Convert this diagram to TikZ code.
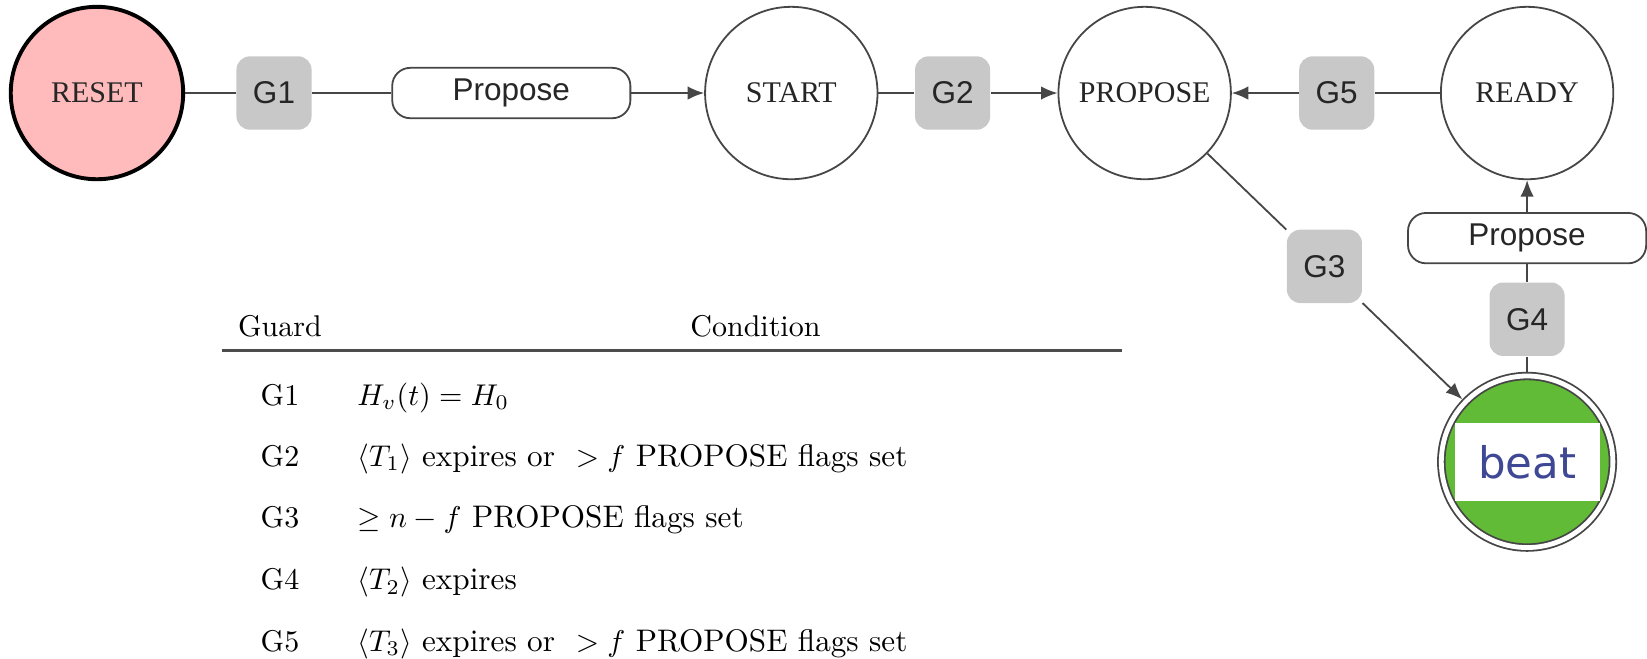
\documentclass[tikz,border=0pt]{standalone}
\usepackage{fontspec}
\usetikzlibrary{calc,arrows.meta}
\newfontfamily\statefont{Liberation Serif}
\newfontfamily\guardfont{Liberation Sans}
\newfontfamily\beatfont{DejaVu Sans}
\definecolor{resetpink}{RGB}{255,187,187}
\definecolor{beatgreen}{RGB}{98,187,54}
\definecolor{guardgray}{RGB}{200,200,200}
\definecolor{beatblue}{RGB}{63,72,148}
\definecolor{linegray}{RGB}{70,70,70}
\tikzset{
	state/.style={circle,draw=linegray,line width=0.6pt,minimum size=2.02cm,inner sep=0pt,text=black!85,font=\statefont\fontsize{10}{12}\selectfont},
	guard/.style={rectangle,rounded corners=4.5pt,fill=guardgray,minimum width=0.88cm,minimum height=0.86cm,inner sep=0pt,text=black!85,font=\guardfont\fontsize{10.5}{12}\selectfont},
	action/.style={rectangle,rounded corners=6pt,draw=linegray,line width=0.6pt,fill=white,minimum width=2.79cm,minimum height=0.59cm,inner sep=0pt,text=black!85,font=\guardfont\fontsize{10.5}{12}\selectfont},
	link/.style={draw=linegray,line width=0.6pt},
	linkarrow/.style={link,-{Latex[length=5.5pt,width=4.5pt]}},
	cell/.style={anchor=base,inner sep=0pt,font=\fontsize{10}{12}\selectfont},
	condcell/.style={cell,anchor=base west,font=\fontsize{10.4}{12}\selectfont}
}

\begin{document}
\begin{tikzpicture}
	\useasboundingbox (0,0) rectangle (19.295,-7.72);
	% states
	\node[state,fill=resetpink,draw=black,line width=1.3pt] (RESET) at (1.136,-1.09) {RESET};
	\node[state] (START) at (9.27,-1.09) {START};
	\node[state] (PROPOSE) at (13.41,-1.09) {PROPOSE};
	\node[state] (READY) at (17.89,-1.09) {READY};
	\node[state,fill=beatgreen,double=white,double distance=1.6pt,minimum size=2.01cm,outer sep=1.4pt] (beat) at ($(READY) + (0,-4.32)$) {};
	\node[fill=white,minimum width=1.70cm,minimum height=0.91cm,text=beatblue,font=\beatfont\fontsize{14.5}{16}\selectfont] (beatlabel) at (beat) {beat};
	% guards and actions
	\node[guard] (G1) at (3.21,-1.09) {G1};
	\node[action] (P1) at (5.99,-1.09) {Propose};
	\node[guard] (G2) at (11.16,-1.09) {G2};
	\node[guard] (G5) at (15.66,-1.09) {G5};
	\node[guard] (G3) at ($(PROPOSE)!0.47!(beat)$) {G3};
	\node[action] (P2) at ($(READY) + (0,-1.7)$) {Propose};
	\node[guard] (G4) at ($(READY) + (0,-2.65)$) {G4};
	% transitions
	\draw[link] (RESET) -- (G1) -- (P1);
	\draw[linkarrow] (P1) -- (START);
	\draw[link] (START) -- (G2);
	\draw[linkarrow] (G2) -- (PROPOSE);
	\draw[link] (READY) -- (G5);
	\draw[linkarrow] (G5) -- (PROPOSE);
	\draw[link] (PROPOSE) -- (G3);
	\draw[linkarrow] (G3) -- (beat);
	\draw[link] (beat) -- (G4) -- (P2);
	\draw[linkarrow] (P2) -- (READY);
	% guard table
	\node[cell] (Hguard) at (3.28,-3.94) {Guard};
	\node[cell] (Hcond) at (8.85,-3.94) {Condition};
	\coordinate (ruleL) at (2.60,-4.105);
	\coordinate (ruleR) at (13.14,-4.105);
	\draw[black!70,line width=0.8pt] (ruleL) -- (ruleR);
	\node[cell] (R1) at (3.28,-4.745) {G1};
	\node[condcell] (C1) at (4.18,-4.745) {$H_v(t) = H_0$};
	\node[cell] (R2) at ($(R1.base) - (0,0.715)$) {G2};
	\node[condcell] (C2) at ($(C1.base west) - (0,0.715)$) {$\langle T_1\rangle$ expires or \ $>f$ PROPOSE flags set};
	\node[cell] (R3) at ($(R2.base) - (0,0.725)$) {G3};
	\node[condcell] (C3) at ($(C2.base west) - (0,0.725)$) {$\geq n-f$ PROPOSE flags set};
	\node[cell] (R4) at ($(R3.base) - (0,0.725)$) {G4};
	\node[condcell] (C4) at ($(C3.base west) - (0,0.725)$) {$\langle T_2\rangle$ expires};
	\node[cell] (R5) at ($(R4.base) - (0,0.72)$) {G5};
	\node[condcell] (C5) at ($(C4.base west) - (0,0.72)$) {$\langle T_3\rangle$ expires or \ $>f$ PROPOSE flags set};
\end{tikzpicture}
\end{document}
